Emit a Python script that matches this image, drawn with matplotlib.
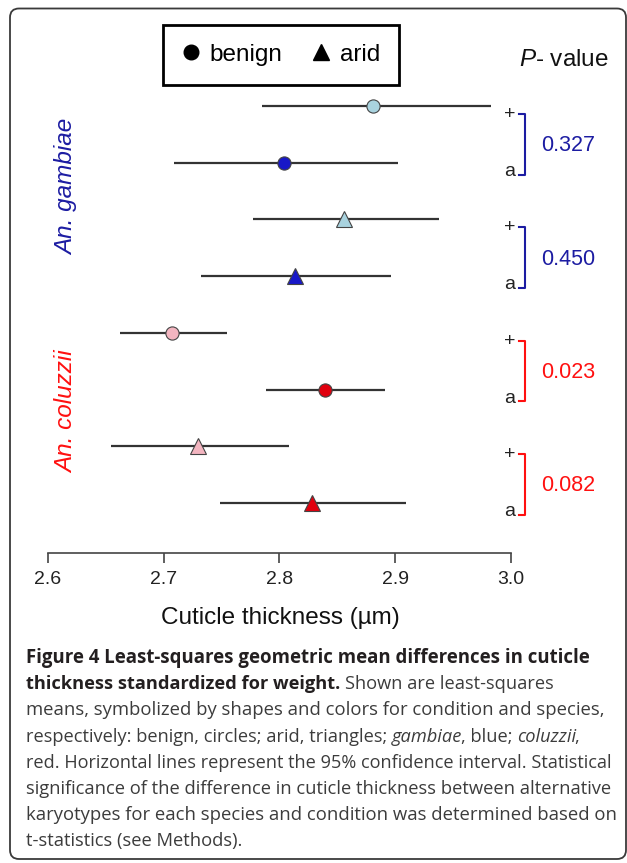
import matplotlib
matplotlib.use("Agg")
import matplotlib.pyplot as plt
from matplotlib.lines import Line2D
from matplotlib.patches import FancyBboxPatch
from matplotlib.transforms import blended_transform_factory, IdentityTransform

plt.rcParams['font.family'] = ['Liberation Sans', 'DejaVu Sans']
plt.rcParams['mathtext.fontset'] = 'custom'
plt.rcParams['mathtext.it'] = 'Liberation Sans:italic'
plt.rcParams['mathtext.rm'] = 'Liberation Sans'

# ---------------- data ----------------
species = ["gambiae", "gambiae", "gambiae", "gambiae",
           "coluzzii", "coluzzii", "coluzzii", "coluzzii"]
condition = ["benign", "benign", "arid", "arid",
             "benign", "benign", "arid", "arid"]
karyotype = ["+", "a", "+", "a", "+", "a", "+", "a"]
means = [2.881, 2.804, 2.856, 2.813, 2.707, 2.839, 2.730, 2.828]
ci_low = [2.785, 2.709, 2.777, 2.732, 2.662, 2.788, 2.654, 2.749]
ci_high = [2.983, 2.902, 2.938, 2.896, 2.755, 2.891, 2.808, 2.909]
p_values = ["0.327", "0.450", "0.023", "0.082"]
x_ticks = [2.6, 2.7, 2.8, 2.9, 3.0]
x_ticklabels = ["2.6", "2.7", "2.8", "2.9", "3.0"]
x_label = "Cuticle thickness (µm)"

fill_colors = {("gambiae", "+"): "#a9d3df", ("gambiae", "a"): "#1818c8",
               ("coluzzii", "+"): "#f3b5c0", ("coluzzii", "a"): "#e0000e"}
text_colors = {"gambiae": "#1c1ca2", "coluzzii": "#ff1010"}
markers = {"benign": "o", "arid": "^"}
msizes = {"benign": 9.5, "arid": 11.5}

W, H = 627, 863
fig = plt.figure(figsize=(W / 100, H / 100), dpi=100)

def fx(x):
    return x / W

def fy(y):
    return 1 - y / H

# outer rounded frame
frame = FancyBboxPatch((10, H - 859), 616, 850.5,
                       boxstyle="round,pad=0,rounding_size=9",
                       transform=IdentityTransform(), facecolor="none",
                       edgecolor="#3a3a3a", linewidth=1.3)
fig.patches.append(frame)

ax_bottom_px, ax_top_px = 552.7, 20
ax_h_px = ax_bottom_px - ax_top_px
ax = fig.add_axes([fx(48), fy(ax_bottom_px), fx(511) - fx(48), ax_h_px / H])
row0_px, row_step = 106.0, 56.7
ax.set_xlim(2.6, 3.0)
ax.set_ylim((ax_bottom_px - row0_px) / row_step, (ax_top_px - row0_px) / row_step)
ax.patch.set_alpha(0)
for s in ["top", "right", "left"]:
    ax.spines[s].set_visible(False)
ax.spines["bottom"].set_color("#444444")
ax.spines["bottom"].set_linewidth(1.2)
ax.set_yticks([])
ax.set_xticks(x_ticks)
ax.set_xticklabels(x_ticklabels, fontsize=14, color="#222222")
ax.tick_params(axis="x", direction="out", length=7, width=1.2, color="#444444", pad=6.5)
ax.set_xlabel(x_label, fontsize=17.5, color="#111111")
ax.xaxis.label.set_va("center")
ax.xaxis.set_label_coords((280 - 48) / 463, -(618 - ax_bottom_px) / ax_h_px)

for i in range(len(means)):
    ax.plot([ci_low[i], ci_high[i]], [i, i], color="#333333", lw=1.6,
            solid_capstyle="butt", zorder=2, clip_on=False)
    ax.plot([means[i]], [i], linestyle="none", marker=markers[condition[i]],
            markersize=msizes[condition[i]],
            markerfacecolor=fill_colors[(species[i], karyotype[i])],
            markeredgecolor="#444444", markeredgewidth=0.8, zorder=3, clip_on=False)

# karyotype labels, brackets and p-values
tr = blended_transform_factory(fig.transFigure, ax.transData)
for i in range(len(means)):
    ax.text(fx(510), i + 0.15, karyotype[i], transform=tr, ha="center", va="center",
            fontsize=14, color="#222222", clip_on=False)
for j, p in enumerate(p_values):
    top = 2 * j + 0.14
    bot = 2 * j + 1 + 0.21
    col = text_colors[species[2 * j]]
    ax.plot([fx(519), fx(524.5), fx(524.5), fx(519)], [top, top, bot, bot],
            transform=tr, color=col, lw=1.5, clip_on=False)
    ax.text(fx(541), 2 * j + 0.7, p, transform=tr, ha="left", va="center",
            fontsize=15.5, color=col, clip_on=False)

# species labels
ax.text(fx(66.5), 1.43, "An. gambiae", transform=tr, rotation=90, ha="center",
        va="center", fontsize=17.5, style="italic", color=text_colors["gambiae"])
ax.text(fx(66.5), 5.39, "An. coluzzii", transform=tr, rotation=90, ha="center",
        va="center", fontsize=17.5, style="italic", color=text_colors["coluzzii"])

# header P- value
fig.text(fx(519), fy(60), r"$\it{P}$- value", ha="left", va="center",
         fontsize=17.5, color="#111111")

# legend
handles = [Line2D([], [], linestyle="none", marker="o", markersize=10.5,
                  markerfacecolor="black", markeredgecolor="black", label="benign"),
           Line2D([], [], linestyle="none", marker="^", markersize=12,
                  markerfacecolor="black", markeredgecolor="black", label="arid")]
leg = fig.legend(handles=handles, ncol=2, loc="upper left",
                 bbox_to_anchor=(fx(162.5), fy(25)), bbox_transform=fig.transFigure,
                 fontsize=17.5, frameon=True, fancybox=False, framealpha=1,
                 edgecolor="black", borderpad=0.78, handlelength=0.8,
                 handletextpad=0.36, columnspacing=1.2, borderaxespad=0)
leg.get_frame().set_linewidth(2.0)

# caption with mixed styles
cap_font = ["Open Sans", "DejaVu Sans"]
cap_base = 13.5
cap_lines = [
    [("Figure 4 Least-squares geometric mean differences in cuticle", "bold", "normal")],
    [("thickness standardized for weight.", "bold", "normal"),
     ("Shown are least-squares", "normal", "normal")],
    [("means, symbolized by shapes and colors for condition and species,", "normal", "normal")],
    [("respectively: benign, circles; arid, triangles;", "normal", "normal"),
     ("gambiae", "normal", "italic"), (", blue;", "normal", "normal", True),
     ("coluzzii", "normal", "italic"), (",", "normal", "normal", True)],
    [("red. Horizontal lines represent the 95% confidence interval. Statistical", "normal", "normal")],
    [("significance of the difference in cuticle thickness between alternative", "normal", "normal")],
    [("karyotypes for each species and condition was determined based on", "normal", "normal")],
    [("t-statistics (see Methods).", "normal", "normal")],
]
# right edge (px) each caption line reaches in the layout (None: natural width)
cap_right = [590, 555, 602, 582, 613, 613, 615, None]
cap_x0 = 26
cap_base_y0 = 663
cap_dy = 26.2
renderer = fig.canvas.get_renderer()

def text_width(t):
    return t.get_window_extent(renderer=renderer).width

def layout_line(runs, size, y, draw):
    probe1 = fig.text(0, 0, "a a", fontsize=size, family=cap_font)
    probe2 = fig.text(0, 0, "aa", fontsize=size, family=cap_font)
    space_w = text_width(probe1) - text_width(probe2)
    probe1.remove()
    probe2.remove()
    x = cap_x0
    made = []
    for k, run in enumerate(runs):
        txt, weight, style = run[0], run[1], run[2]
        glued = len(run) > 3 and run[3]
        if k > 0 and not glued:
            x += space_w
        elif glued:
            x -= 1.5
        col = "#231f20" if weight == "bold" else "#3c3c3c"
        t = fig.text(fx(x), fy(y), txt, fontsize=size, family=cap_font,
                     weight=weight, style=style, ha="left", va="baseline", color=col)
        x += text_width(t)
        made.append(t)
    if not draw:
        for t in made:
            t.remove()
    return x - cap_x0

sizes = []
for li, runs in enumerate(cap_lines):
    y = cap_base_y0 + li * cap_dy
    if cap_right[li] is None:
        size = sum(sizes) / len(sizes)
    else:
        natural = layout_line(runs, cap_base, y, draw=False)
        size = cap_base * (cap_right[li] - cap_x0) / natural
    sizes.append(size)
    layout_line(runs, size, y, draw=True)

fig.savefig("out.png", dpi=100)
